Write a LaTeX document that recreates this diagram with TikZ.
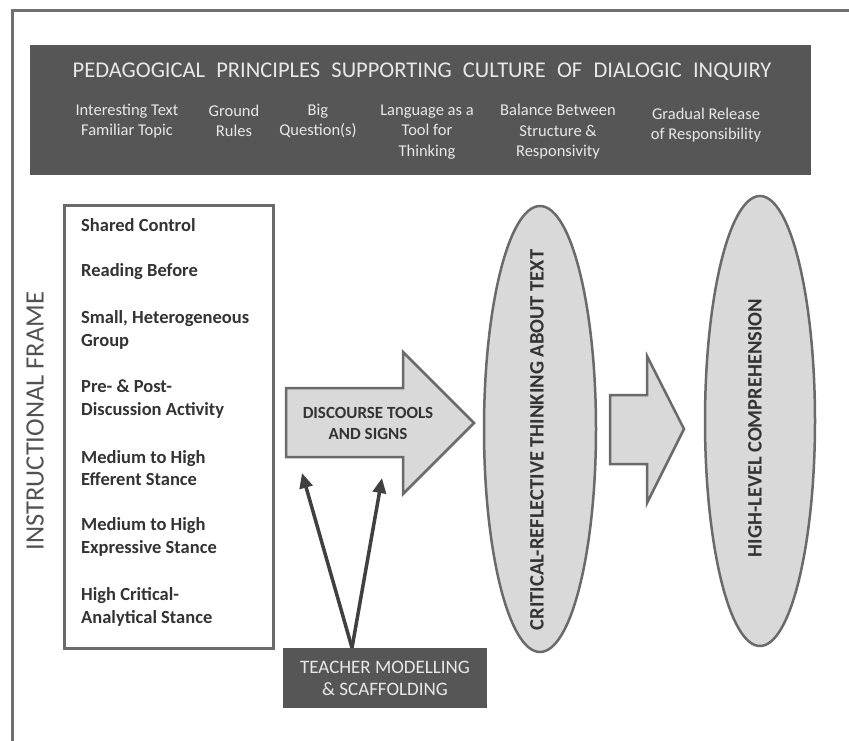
\documentclass[tikz,border=0pt]{standalone}
\usepackage{fontspec}
\setmainfont{Carlito}
\usetikzlibrary{arrows.meta,shapes.geometric}
\definecolor{hdrfill}{HTML}{565656}
\definecolor{hdrtext}{HTML}{E8E8E8}
\definecolor{lightfill}{HTML}{D9D9D9}
\definecolor{edge}{HTML}{6A6A6A}
\definecolor{frame}{HTML}{707070}
\definecolor{itemtext}{HTML}{333333}
\definecolor{conncol}{HTML}{404040}
\tikzset{
  hdrsub/.style={text=hdrtext, align=center, font=\fontsize{16.5}{20.5}\selectfont, inner sep=0pt},
  item/.style={anchor=west, align=left, text=itemtext, font=\fontsize{18.5}{22.5}\selectfont\bfseries, inner sep=0pt},
  blockarrow/.style={draw=edge, fill=lightfill, line width=2.5pt, line join=miter},
  oval/.style={ellipse, draw=edge, fill=lightfill, line width=2.5pt, inner sep=0pt},
  ovaltext/.style={rotate=90, text=itemtext, font=\fontsize{20.5}{24}\selectfont\bfseries, inner sep=0pt},
  conn/.style={draw=conncol, line width=3.5pt, -{Triangle[length=15pt,width=13pt]}},
}
\begin{document}
\begin{tikzpicture}[x=1pt,y=-1pt]
\useasboundingbox (0,0) rectangle (849,740);
% outer frame
\draw[frame, line width=3pt] (12,745) -- (12,10) -- (855,10);
% header
\node (hdr) [fill=hdrfill, minimum width=781pt, minimum height=130pt, anchor=north west, inner sep=0pt] at (30,45) {};
\node (title) [text=hdrtext, font=\fontsize{22.5}{26}\selectfont, inner sep=0pt] at (422,72)
  {PEDAGOGICAL\hspace{0.5em}PRINCIPLES\hspace{0.5em}SUPPORTING\hspace{0.5em}CULTURE\hspace{0.5em}OF\hspace{0.5em}DIALOGIC\hspace{0.5em}INQUIRY};
\node (p1) [hdrsub] at (127,121) {Interesting Text\\Familiar Topic};
\node (p2) [hdrsub] at (234,121) {Ground\\Rules};
\node (p3) [hdrsub] at (318,121) {Big\\Question(s)};
\node (p4) [hdrsub] at (427,132) {Language as a\\Tool for\\Thinking};
\node (p5) [hdrsub] at (558,132) {Balance Between\\Structure \&\\Responsivity};
\node (p6) [hdrsub] at (706,125) {Gradual Release\\of Responsibility};
% instructional frame
\node (iflabel) [rotate=90, text=itemtext!85, font=\fontsize{26.5}{30}\selectfont, inner sep=0pt] at (35,421) {INSTRUCTIONAL FRAME};
\node (ibox) [draw=edge, line width=2.5pt, fill=white, minimum width=209pt, minimum height=443pt, anchor=north west, inner sep=0pt] at (63,204) {};
\node (i1) [item] at (81,225) {Shared Control};
\node (i2) [item] at (81,272) {Reading Before};
\node (i3) [item] at (81,330) {Small, Heterogeneous\\Group};
\node (i4) [item] at (81,399) {Pre- \& Post-\\Discussion Activity};
\node (i5) [item] at (81,468) {Medium to High\\Efferent Stance};
\node (i6) [item] at (81,537) {Medium to High\\Expressive Stance};
\node (i7) [item] at (81,607) {High Critical-\\Analytical Stance};
% discourse arrow
\draw[blockarrow] (286,388) -- (403,388) -- (403,352) -- (474,423) -- (403,494) -- (403,457) -- (286,457) -- cycle;
\node (dt) [align=center, text=itemtext, font=\fontsize{17}{21}\selectfont\bfseries, inner sep=0pt] at (368,423) {DISCOURSE TOOLS\\AND SIGNS};
% ellipses
\node (e1) [oval, minimum width=112pt, minimum height=446pt] at (540,429) {};
\node (e1t) [ovaltext] at (537,440) {CRITICAL-REFLECTIVE THINKING ABOUT TEXT};
\draw[blockarrow] (610,395) -- (647,395) -- (647,356) -- (684,429) -- (647,503) -- (647,464) -- (610,464) -- cycle;
\node (e2) [oval, minimum width=110pt, minimum height=450pt] at (760,421) {};
\node (e2t) [ovaltext] at (755,428) {HIGH-LEVEL COMPREHENSION};
% teacher box
\node (teach) [fill=hdrfill, text=hdrtext, align=center, minimum width=204pt, minimum height=60pt, font=\fontsize{19}{22}\selectfont, inner sep=0pt] at (385,678) {TEACHER MODELLING\\\& SCAFFOLDING};
\coordinate (tv) at ([xshift=-33pt]teach.north);
\coordinate (t1) at (302,473);
\coordinate (t2) at (382,478);
\draw[conn] (tv) -- (t1);
\draw[conn] (tv) -- (t2);
\end{tikzpicture}
\end{document}
